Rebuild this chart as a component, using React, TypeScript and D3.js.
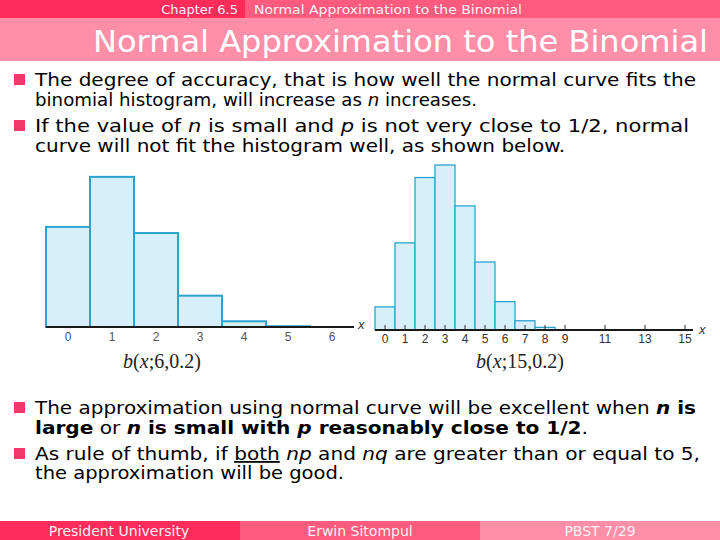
import React from 'react'
import * as d3 from 'd3'

// binomial probabilities
const leftValues = [0.262, 0.393, 0.246, 0.082, 0.015, 0.002, 0]
const leftTicks = [0, 1, 2, 3, 4, 5, 6]
const rightValues = [0.035, 0.132, 0.231, 0.25, 0.188, 0.103, 0.043, 0.014, 0.004]
const rightTicks = [0, 1, 2, 3, 4, 5, 6, 7, 8, 9, 11, 13, 15]

const sans = 'DejaVu Sans, Verdana, sans-serif'
const stroke = '#2aa4cf'
const fill = '#d7effa'

interface HistProps {
  values: number[]
  ticks: number[]
  xDomain: [number, number]
  xRange: [number, number]
  yMax: number
  y0: number
  yTop: number
  showTicks: boolean
  barStroke: number
  labelColor: string
  labelY: number
  xLabelX: number
  xLabelY: number
  caption: [string, string]
  captionX: number
}

const Histogram: React.FC<HistProps> = (props: HistProps) => {
  const xScale = d3.scaleLinear().domain(props.xDomain).range(props.xRange)
  const yScale = d3.scaleLinear().domain([0, props.yMax]).range([props.y0, props.yTop])

  const bars = props.values.map((v, i) => {
    if (v <= 0) return null
    const x0 = xScale(i - 0.5)
    const x1 = xScale(i + 0.5)
    return (
      <rect key={i} x={x0} y={yScale(v)} width={x1 - x0} height={props.y0 - yScale(v)}
        fill={fill} stroke={stroke} strokeWidth={props.barStroke} />
    )
  })

  return (
    <g>
      {bars}
      {props.showTicks && props.ticks.map(t => (
        <line key={'t' + t} x1={xScale(t)} x2={xScale(t)} y1={props.y0 - 5} y2={props.y0}
          stroke="#333" strokeWidth={1} />
      ))}
      <line x1={props.xRange[0]} x2={props.xRange[1]} y1={props.y0} y2={props.y0} stroke="#1a1a1a" strokeWidth={2} />
      {props.ticks.map(t => (
        <text key={'l' + t} x={xScale(t)} y={props.labelY} textAnchor="middle"
          fontFamily="Liberation Sans, Arial, sans-serif" fontSize={12} fill={props.labelColor}>{t}</text>
      ))}
      <text x={props.xLabelX} y={props.xLabelY} fontFamily="Liberation Sans, Arial, sans-serif"
        fontStyle="italic" fontSize={13} fill="#333">x</text>
      <text x={props.captionX} y={368} textAnchor="middle" fontFamily="Liberation Serif, Times New Roman, serif"
        fontSize={20} fill="#222">
        <tspan fontStyle="italic">b</tspan>(<tspan fontStyle="italic">x</tspan>;{props.caption[0]},{props.caption[1]})
      </text>
    </g>
  )
}

const Bullet: React.FC<{ y: number }> = ({ y }) => (
  <rect x={14} y={y - 11} width={11} height={11} fill="#f0386a" />
)

export default function App() {
  const bodyText = { fontFamily: sans, fontSize: 18, fill: '#000' }
  return (
    <div style={{ position: 'fixed', left: 0, top: 0 }}>
      <svg width={720} height={540} style={{ display: 'block', background: '#fff' }}>
        {/* header */}
        <rect x={0} y={0} width={245} height={18} fill="#ff2c5b" />
        <rect x={245} y={0} width={475} height={18} fill="#ff5b7e" />
        <rect x={0} y={18} width={720} height={43} fill="#ff8fa8" />
        <text x={238} y={14} textAnchor="end" fontFamily={sans} fontSize={13} fill="#fff0f3">Chapter 6.5</text>
        <text x={254} y={14} fontFamily={sans} fontSize={13} fill="#fff0f3" textLength={268} lengthAdjust="spacingAndGlyphs">Normal Approximation to the Binomial</text>
        <text x={93} y={52} fontFamily={sans} fontSize={31} fill="#ffffff" textLength={615} lengthAdjust="spacingAndGlyphs">Normal Approximation to the Binomial</text>

        {/* top bullets */}
        <Bullet y={85} />
        <text x={35} y={86} {...bodyText} textLength={661} lengthAdjust="spacingAndGlyphs">The degree of accuracy, that is how well the normal curve fits the</text>
        <text x={35} y={106} {...bodyText} textLength={442} lengthAdjust="spacingAndGlyphs">binomial histogram, will increase as <tspan fontStyle="italic">n</tspan> increases.</text>
        <Bullet y={131} />
        <text x={35} y={132} {...bodyText} textLength={654} lengthAdjust="spacingAndGlyphs">If the value of <tspan fontStyle="italic">n</tspan> is small and <tspan fontStyle="italic">p</tspan> is not very close to 1/2, normal</text>
        <text x={35} y={152} {...bodyText} textLength={530} lengthAdjust="spacingAndGlyphs">curve will not fit the histogram well, as shown below.</text>

        {/* histograms */}
        <Histogram values={leftValues} ticks={leftTicks} xDomain={[-0.5, 6.5]} xRange={[46, 354]}
          yMax={0.4} y0={327} yTop={174.2} showTicks={false} barStroke={2} labelColor="#555" labelY={341}
          xLabelX={358} xLabelY={329} caption={['6', '0.2']} captionX={162} />
        <Histogram values={rightValues} ticks={rightTicks} xDomain={[-0.5, 15.4]} xRange={[375, 693]}
          yMax={0.25} y0={330} yTop={165} showTicks={true} barStroke={1.3} labelColor="#333" labelY={343}
          xLabelX={699} xLabelY={334} caption={['15', '0.2']} captionX={520} />

        {/* bottom bullets */}
        <Bullet y={413} />
        <text x={35} y={414} {...bodyText} textLength={661} lengthAdjust="spacingAndGlyphs">The approximation using normal curve will be excellent when <tspan fontWeight="bold" fontStyle="italic">n</tspan><tspan fontWeight="bold"> is</tspan></text>
        <text x={35} y={434} {...bodyText} textLength={553} lengthAdjust="spacingAndGlyphs"><tspan fontWeight="bold">large</tspan> or <tspan fontWeight="bold" fontStyle="italic">n</tspan><tspan fontWeight="bold"> is small with </tspan><tspan fontWeight="bold" fontStyle="italic">p</tspan><tspan fontWeight="bold"> reasonably close to 1/2</tspan>.</text>
        <Bullet y={459} />
        <text x={35} y={460} {...bodyText} textLength={665} lengthAdjust="spacingAndGlyphs">As rule of thumb, if <tspan textDecoration="underline">both</tspan> <tspan fontStyle="italic">np</tspan> and <tspan fontStyle="italic">nq</tspan> are greater than or equal to 5,</text>
        <text x={35} y={479} {...bodyText} textLength={309} lengthAdjust="spacingAndGlyphs">the approximation will be good.</text>

        {/* footer */}
        <rect x={0} y={521} width={240} height={19} fill="#ff2c5b" />
        <rect x={240} y={521} width={240} height={19} fill="#ff5b7e" />
        <rect x={480} y={521} width={240} height={19} fill="#ff8fa8" />
        <text x={119} y={536} textAnchor="middle" fontFamily={sans} fontSize={14} fill="#fff0f3">President University</text>
        <text x={360} y={536} textAnchor="middle" fontFamily={sans} fontSize={14} fill="#fff0f3">Erwin Sitompul</text>
        <text x={600} y={536} textAnchor="middle" fontFamily={sans} fontSize={14} fill="#fff0f3">PBST 7/29</text>
      </svg>
    </div>
  )
}
